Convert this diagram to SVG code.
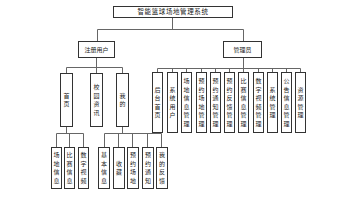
<svg xmlns="http://www.w3.org/2000/svg" width="356" height="200" viewBox="0 0 356 200">
<style>
.b{fill:#fff;stroke:#333;stroke-width:1}
.t{font-family:"Noto Sans CJK SC","Noto Sans",sans-serif;font-size:6px;fill:#222;text-anchor:middle}
.v{font-family:"Noto Sans CJK SC","Noto Sans",sans-serif;font-size:6px;fill:#222;text-anchor:middle;writing-mode:vertical-rl;text-orientation:upright;letter-spacing:2.6px}
.c{fill:none;stroke:#666;stroke-width:1}
</style>
<rect width="356" height="200" fill="#fff"/>
<g id="connectors">
<path class="c" d="M172.5 17V29.5M97.5 29.5H243.5M97.5 29.5V41M243.5 29.5V41"/>
<path class="c" d="M96.5 58V67.5M66.5 67.5H122.5M66.5 67.5V73M96.5 67.5V73M122.5 67.5V73"/>
<path class="c" d="M243.5 58V68.5M157.5 68.5H300.5M157.5 68.5V73M172.5 68.5V73M186.5 68.5V73M201.5 68.5V73M215.5 68.5V73M229.5 68.5V73M243.5 68.5V73M258.5 68.5V73M272.5 68.5V73M286.5 68.5V73M300.5 68.5V73"/>
<path class="c" d="M66.5 126V133.5M56.5 133.5H83.5M56.5 133.5V147M69.5 133.5V147M83.5 133.5V147"/>
<path class="c" d="M122.5 126V133.5M104.5 133.5H161.5M104.5 133.5V147M118.5 133.5V147M132.5 133.5V147M147.5 133.5V147M161.5 133.5V147"/>
</g>
<g id="root"><rect class="b" x="113.5" y="6.5" width="119" height="11"/><text class="t" x="173" y="14.3" style="font-size:6.5px;letter-spacing:0.6px">智能篮球场地管理系统</text></g>
<g id="user"><rect class="b" x="78.5" y="41.5" width="36" height="16"/><text class="t" x="96.5" y="51.8">注册用户</text></g>
<g id="admin"><rect class="b" x="223.5" y="41.5" width="38" height="16"/><text class="t" x="242.5" y="51.8">管理员</text></g>
<g id="home"><rect class="b" x="60.5" y="73.5" width="12" height="53"/><text class="v" x="66.5" y="101">首页</text></g>
<g id="news"><rect class="b" x="90.5" y="73.5" width="12" height="53"/><text class="v" x="96.5" y="101">校园资讯</text></g>
<g id="mine"><rect class="b" x="116.5" y="73.5" width="12" height="53"/><text class="v" x="122.5" y="101">我的</text></g>
<g id="a1"><rect class="b" x="152.5" y="72.5" width="10" height="60"/><text class="v" x="157.5" y="103.5">后台首页</text></g>
<g id="a2"><rect class="b" x="167.5" y="72.5" width="10" height="60"/><text class="v" x="172.5" y="103.5">系统用户</text></g>
<g id="a3"><rect class="b" x="181.5" y="72.5" width="10" height="60"/><text class="v" x="186.5" y="103.5">场地信息管理</text></g>
<g id="a4"><rect class="b" x="196.5" y="72.5" width="10" height="60"/><text class="v" x="201.5" y="103.5">预约场地管理</text></g>
<g id="a5"><rect class="b" x="210.5" y="72.5" width="10" height="60"/><text class="v" x="215.5" y="103.5">预约通知管理</text></g>
<g id="a6"><rect class="b" x="224.5" y="72.5" width="10" height="60"/><text class="v" x="229.5" y="103.5">预约反馈管理</text></g>
<g id="a7"><rect class="b" x="238.5" y="72.5" width="10" height="60"/><text class="v" x="243.5" y="103.5">比赛信息管理</text></g>
<g id="a8"><rect class="b" x="253.5" y="72.5" width="10" height="60"/><text class="v" x="258.5" y="103.5">数字视频管理</text></g>
<g id="a9"><rect class="b" x="267.5" y="72.5" width="10" height="60"/><text class="v" x="272.5" y="103.5">系统管理</text></g>
<g id="a10"><rect class="b" x="281.5" y="72.5" width="10" height="60"/><text class="v" x="286.5" y="103.5">公告信息管理</text></g>
<g id="a11"><rect class="b" x="295.5" y="72.5" width="10" height="60"/><text class="v" x="300.5" y="103.5">资源管理</text></g>
<g id="h1"><rect class="b" x="51.5" y="147.5" width="10" height="41"/><text class="v" x="56.5" y="169">场地信息</text></g>
<g id="h2"><rect class="b" x="64.5" y="147.5" width="10" height="41"/><text class="v" x="69.5" y="169">比赛信息</text></g>
<g id="h3"><rect class="b" x="78.5" y="147.5" width="10" height="41"/><text class="v" x="83.5" y="169">数字视频</text></g>
<g id="m1"><rect class="b" x="98.5" y="147.5" width="11" height="41"/><text class="v" x="104" y="169">基本信息</text></g>
<g id="m2"><rect class="b" x="113.5" y="147.5" width="11" height="41"/><text class="v" x="119" y="169">收藏</text></g>
<g id="m3"><rect class="b" x="127.5" y="147.5" width="11" height="41"/><text class="v" x="133" y="169">预约场地</text></g>
<g id="m4"><rect class="b" x="142.5" y="147.5" width="11" height="41"/><text class="v" x="148" y="169">预约通知</text></g>
<g id="m5"><rect class="b" x="156.5" y="147.5" width="11" height="41"/><text class="v" x="162" y="169">我的反馈</text></g>
</svg>
